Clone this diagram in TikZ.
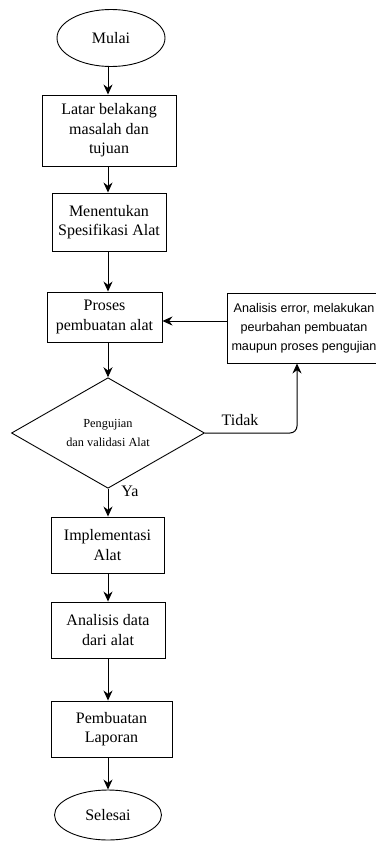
\documentclass[tikz,border=0pt]{standalone}
\usepackage{fontspec}
\setmainfont{Liberation Serif}
\newfontfamily\catatanfont{Liberation Sans}
\usetikzlibrary{shapes.geometric,arrows.meta}

\begin{document}
\begin{tikzpicture}[x=1pt,y=-1pt,
    kotak/.style={draw,line width=0.9pt,align=center,inner sep=0pt,font=\fontsize{16}{19.5}\selectfont},
    ujung/.style={draw,ellipse,line width=0.9pt,inner sep=0pt,font=\fontsize{16}{19.5}\selectfont},
    cabang/.style={draw,diamond,line width=0.9pt,inner sep=0pt,align=center,font=\fontsize{12.3}{19}\selectfont},
    panah/.style={line width=1pt,-{Stealth[length=10pt,width=9pt]}}]
  \useasboundingbox (0,0) rectangle (375,843);

  \node[ujung,minimum width=108pt,minimum height=57pt] (mulai) at (111,38) {Mulai};
  \node[kotak,minimum width=134pt,minimum height=71pt] (latar) at (109,130.5) {Latar belakang\\masalah dan\\tujuan};
  \node[kotak,minimum width=114pt,minimum height=58pt] (spek) at (109,222) {Menentukan\\Spesifikasi Alat};
  \node[kotak,minimum width=115pt,minimum height=50pt] (proses) at (104.5,317) {Proses\\pembuatan alat};
  \node[cabang,minimum width=193pt,minimum height=83pt] (uji) at (108,433) {Pengujian\\dan validasi Alat};
  \node[kotak,minimum width=154pt,minimum height=70pt,font=\catatanfont\fontsize{12.6}{19}\selectfont] (revisi) at (304,328) {Analisis error, melakukan\\peurbahan pembuatan\\maupun proses pengujian};
  \node[kotak,minimum width=113pt,minimum height=56pt] (implementasi) at (107.5,545) {Implementasi\\Alat};
  \node[kotak,minimum width=114pt,minimum height=56pt] (analisis) at (108,630) {Analisis data\\dari alat};
  \node[kotak,minimum width=121pt,minimum height=56pt] (laporan) at (111.5,729) {Pembuatan\\Laporan};
  \node[ujung,minimum width=107pt,minimum height=50pt] (selesai) at (108,815) {Selesai};

  \node[font=\fontsize{16}{18}\selectfont] (tidak) at (240,420) {Tidak};
  \node[font=\fontsize{16}{18}\selectfont] (ya) at (130,491) {Ya};

  \draw[panah] (mulai.south -| 108,0) -- (latar.north -| 108,0);
  \draw[panah] (latar.south -| 108,0) -- (spek.north -| 108,0);
  \draw[panah] (spek.south -| 108,0) -- (proses.north -| 108,0);
  \draw[panah] (proses.south -| 108,0) -- (uji.north);
  \draw[panah] (uji.south) -- (implementasi.north -| uji.south);
  \draw[panah] (implementasi.south -| 108,0) -- (analisis.north -| 108,0);
  \draw[panah] (analisis.south -| 108,0) -- (laporan.north -| 108,0);
  \draw[panah] (laporan.south -| 108,0) -- (selesai.north);
  \draw[panah] ([yshift=7pt]revisi.west) -- ([yshift=7pt]revisi.west -| proses.east);
  \draw[panah,rounded corners=7pt] (uji.east) -| ([xshift=-7pt]revisi.south);
\end{tikzpicture}
\end{document}
